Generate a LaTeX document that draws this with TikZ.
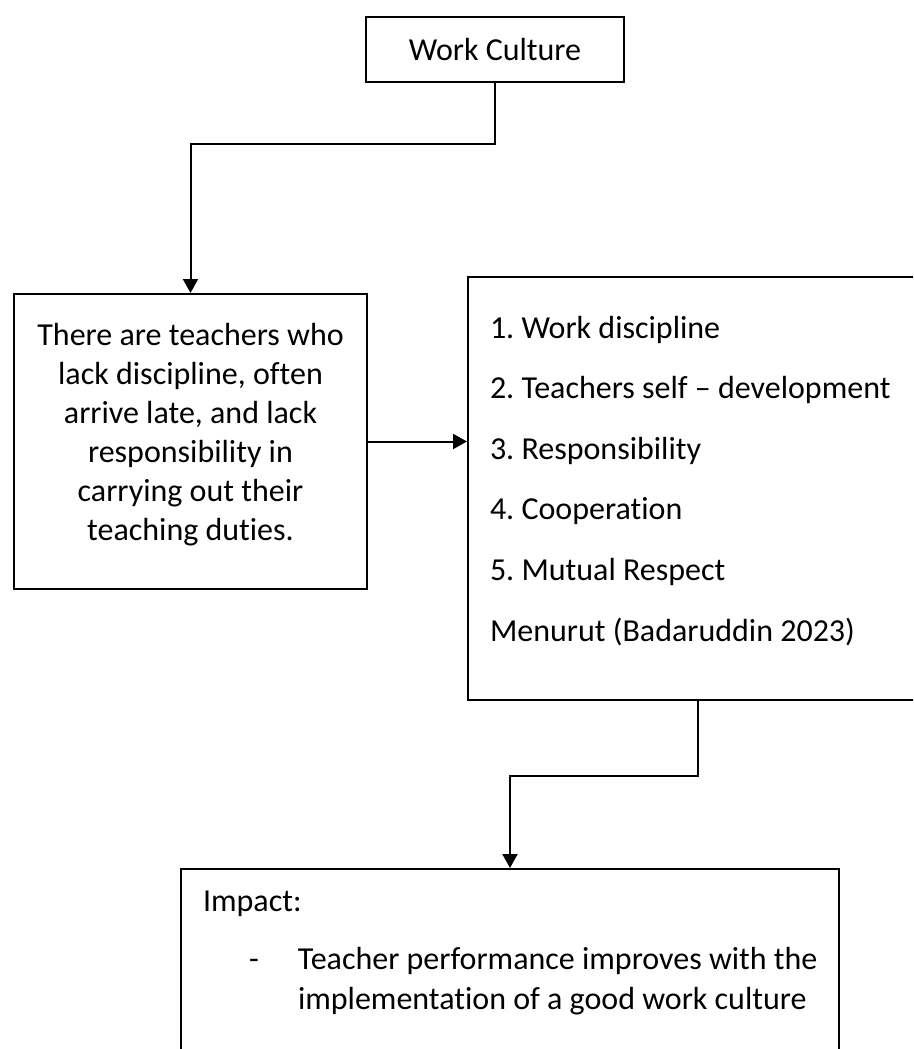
\documentclass[tikz,border=0pt]{standalone}
\usepackage{fontspec}
\setmainfont{Carlito}[Ligatures={TeX,CommonOff}]
\usetikzlibrary{arrows.meta}
\frenchspacing
\tikzstyle{block} = [rectangle, draw=black, line width=2pt, anchor=north west, font=\fontsize{32}{39}\selectfont]
\tikzstyle{arrow} = [line width=2pt,-{Triangle[length=14pt,width=15pt]}]

\begin{document}
\begin{tikzpicture}[x=1pt,y=-1pt]
  \clip (0,0) rectangle (913,1049);

  \node (culture) [block, minimum width=258pt, minimum height=65pt] at (365,16) {Work Culture};
  \node (problem) [block, text width=333pt, align=flush center, inner xsep=10pt, inner ysep=27pt, text height=24pt, text depth=217pt] at (13,293) {There are teachers who\\ lack discipline, often\\ arrive late, and lack\\ responsibility in\\ carrying out their\\ teaching duties.};
  \node (factors) [block, text width=416pt, align=flush left, inner xsep=22pt, inner ysep=37pt, text height=24pt, text depth=325pt, font=\fontsize{32}{60.6}\selectfont] at (467,276) {1. Work discipline\\ \mbox{2. Teachers self -- development}\\ 3. Responsibility\\ 4. Cooperation\\ 5. Mutual Respect\\ Menurut (Badaruddin 2023)};
  \node (impact) [block, text width=614pt, align=flush left, inner xsep=22pt, inner ysep=18pt, text height=24pt, text depth=250pt, font=\fontsize{32}{40}\selectfont] at (180,868) {Impact:\\[18pt] \hspace*{46pt}\makebox[49pt][l]{-}\mbox{Teacher performance improves with the}\\ \hspace*{95pt}\mbox{implementation of a good work culture}};

  \draw [arrow] (culture.south) -- ++(0,61) -| (problem.north);
  \draw [arrow] (problem.east) -- (problem.east -| factors.west);
  \draw [arrow] (factors.south) -- ++(0,75) -| (impact.north);

\end{tikzpicture}
\end{document}
